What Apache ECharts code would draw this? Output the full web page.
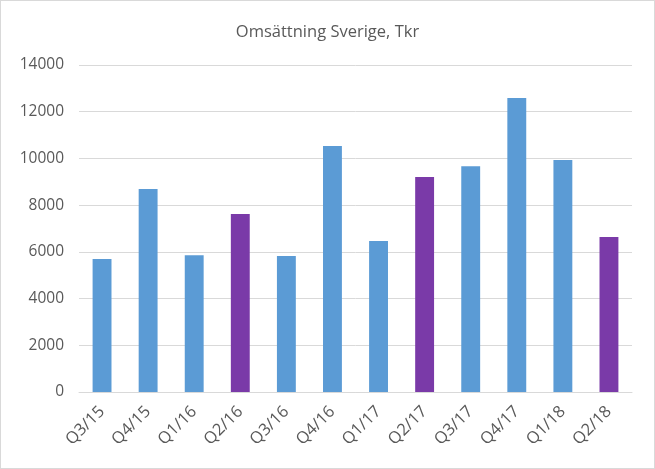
<!DOCTYPE html>
<html>
<head>
<meta charset="utf-8">
<script src="https://cdn.jsdelivr.net/npm/echarts@6/dist/echarts.min.js"></script>
<style>
html,body{margin:0;padding:0;background:#fff;}
#c{position:absolute;left:0;top:0;width:653px;height:467px;border:1px solid #d9d9d9;}
</style>
</head>
<body>
<div id="c"></div>
<script>
const categories = ['Q3/15','Q4/15','Q1/16','Q2/16','Q3/16','Q4/16','Q1/17','Q2/17','Q3/17','Q4/17','Q1/18','Q2/18'];
const values = [5690, 8690, 5860, 7620, 5820, 10530, 6460, 9200, 9670, 12590, 9930, 6640];
const yTicks = [0, 2000, 4000, 6000, 8000, 10000, 12000, 14000];
const title = 'Omsättning Sverige, Tkr';

const BLUE = '#5B9BD5', PURPLE = '#7A3AA8';
const chart = echarts.init(document.getElementById('c'));
chart.setOption({
  animation: false,
  backgroundColor: '#fff',
  title: {
    text: title, left: 'center', top: 18,
    textStyle: {fontFamily: 'Open Sans', fontSize: 16.5, fontWeight: 'normal', color: '#595959'}
  },
  grid: {left: 78, right: 22, top: 64, bottom: 76, containLabel: false},
  xAxis: {
    type: 'category', data: categories,
    axisLine: {lineStyle: {color: '#d9d9d9'}},
    axisTick: {show: false},
    axisLabel: {rotate: 45, color: '#595959', fontFamily: 'Open Sans', fontSize: 16.5, margin: 17, interval: 0}
  },
  yAxis: {
    type: 'value', min: yTicks[0], max: yTicks[yTicks.length-1], interval: 2000,
    axisLine: {show: false}, axisTick: {show: false},
    splitLine: {lineStyle: {color: '#d9d9d9'}},
    axisLabel: {color: '#595959', fontFamily: 'Open Sans', fontSize: 15.5, margin: 15, formatter: v => String(v)}
  },
  series: [{
    type: 'bar', barWidth: '41%',
    data: values.map((v, i) => ({value: v, itemStyle: {color: categories[i].startsWith('Q2') ? PURPLE : BLUE}}))
  }]
});
</script>
</body>
</html>
